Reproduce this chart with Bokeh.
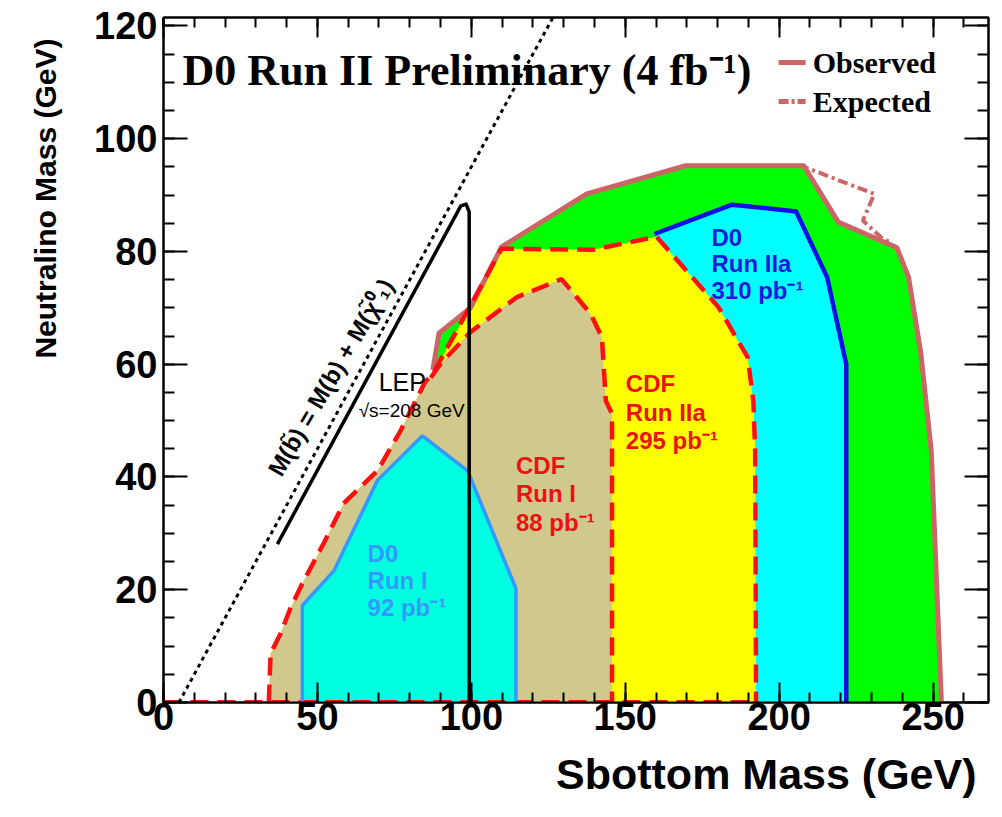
import math
from bokeh.plotting import figure
from bokeh.models import Range1d, LinearAxis, Label, CustomJSTickFormatter, SingleIntervalTicker, Title
from bokeh.embed import file_html
from bokeh.resources import INLINE

# ---------------- data (GeV) ----------------
# shared lower-left edge of the CDF contours
cdf_edge_x = [34.2, 34.8, 38.0, 41.3, 45.1, 52.0, 58.5, 69.5, 77.0, 85.2, 86.8]
cdf_edge_y = [0.0, 8.7, 12.2, 16.8, 21.1, 28.2, 35.3, 41.1, 48.2, 57.1, 57.6]
# CDF Run IIa (295 pb-1) upper/right edge
cdf2a_x = [98.8, 109.8, 139.4, 160.2, 180.3, 189.8, 191.6, 192.2, 192.5]
cdf2a_y = [69.5, 80.5, 80.3, 82.6, 70.1, 61.2, 53.5, 44.7, 0.0]
# CDF Run I (88 pb-1) upper/right edge
cdf1_x = [90.0, 99.7, 114.8, 129.3, 138.8, 142.4, 143.7, 145.7, 145.7]
cdf1_y = [60.1, 65.7, 71.9, 75.1, 68.9, 64.8, 53.5, 51.2, 0.0]
# D0 Run IIa (310 pb-1) edge
d02a_x = [159.5, 184.7, 205.5, 215.6, 221.8, 221.8]
d02a_y = [83.1, 88.3, 87.1, 75.4, 60.0, 0.0]
# D0 Run I (92 pb-1)
d01_x = [45.1, 45.1, 55.4, 69.5, 84.1, 98.8, 114.5, 114.5]
d01_y = [0.0, 17.2, 23.4, 39.4, 47.3, 41.1, 20.2, 0.0]
# D0 Run II (4 fb-1) observed and expected
obs_x = [87.5, 89.5, 99.7, 109.8, 137.5, 169.6, 208.0, 219.2, 238.2, 242.0, 246.0, 249.4, 252.7]
obs_y = [59.0, 65.5, 70.0, 80.8, 90.2, 95.2, 95.2, 85.2, 80.7, 75.5, 62.0, 44.7, 0.0]
exp_x = [207.2, 230.9, 227.2, 233.7, 236.4]
exp_y = [95.2, 90.2, 85.5, 82.2, 81.6]
# LEP limit
lep_x = [37.0, 96.6, 98.3, 99.3, 99.3]
lep_y = [28.1, 88.1, 88.4, 87.0, 0.0]
# kinematic line M(sb) = M(b) + M(chi)
kin_x = [5.0, 127.0]
kin_y = [0.0, 122.0]

X_MAX, Y_MAX = 268.0, 121.5

# ---------------- colours ----------------
C_OBS = "#cc6666"
C_GREEN = "#00ff00"
C_CYAN = "#00ffff"
C_BLUE = "#1010e6"
C_YELLOW = "#ffff00"
C_TAN = "#d0c88c"
C_D0I = "#00ffe0"
C_D0I_LINE = "#3399ff"
C_RED = "#ff1010"

p = figure(width=1002, height=817, output_backend="svg", toolbar_location=None,
           x_range=Range1d(0, X_MAX), y_range=Range1d(0, Y_MAX),
           min_border_left=163, min_border_right=14, min_border_top=17, min_border_bottom=115)
p.xgrid.visible = False
p.ygrid.visible = False
p.outline_line_color = "black"
p.outline_line_width = 2
p.background_fill_color = "white"
p.border_fill_color = "white"

# ---------------- fills ----------------
green_x = obs_x + [86.8]
green_y = obs_y + [0.0]
p.patch(green_x, green_y, fill_color=C_GREEN, line_color=None)

cyan_x = d02a_x + cdf2a_x[::-1][0:6]
cyan_y = d02a_y + cdf2a_y[::-1][0:6]
p.patch(cyan_x, cyan_y, fill_color=C_CYAN, line_color=None)

yel_x = [0.0] + cdf_edge_x + cdf2a_x
yel_y = [0.0] + cdf_edge_y + cdf2a_y
p.patch(yel_x, yel_y, fill_color=C_YELLOW, line_color=None)

tan_x = [0.0] + cdf_edge_x + cdf1_x
tan_y = [0.0] + cdf_edge_y + cdf1_y
p.patch(tan_x, tan_y, fill_color=C_TAN, line_color=None)

p.patch(d01_x, d01_y, fill_color=C_D0I, line_color=None)

# ---------------- outlines ----------------
p.line(obs_x, obs_y, line_color=C_OBS, line_width=5)
p.line([obs_x[6]] + exp_x, [obs_y[6]] + exp_y, line_color=C_OBS, line_width=4, line_dash="10 4 3 4")
p.line(d02a_x, d02a_y, line_color=C_BLUE, line_width=4.5)
p.line(cdf_edge_x + cdf2a_x, cdf_edge_y + cdf2a_y, line_color=C_RED, line_width=4.5, line_dash="18 9")
p.line([cdf_edge_x[-1]] + cdf1_x, [cdf_edge_y[-1]] + cdf1_y, line_color=C_RED, line_width=4.5, line_dash="18 9")
p.line([0.0, 192.5], [0.0, 0.0], line_color=C_RED, line_width=5, line_dash="18 9")
p.line(d01_x, d01_y, line_color=C_D0I_LINE, line_width=3.5)
p.line(lep_x, lep_y, line_color="black", line_width=3.5, line_join="round")
p.line(kin_x, kin_y, line_color="black", line_width=3, line_dash="4 4")

# ---------------- axes ----------------
xa = p.below[0]
ya = p.left[0]
xa.ticker = SingleIntervalTicker(interval=50, num_minor_ticks=5)
ya.ticker = SingleIntervalTicker(interval=20, num_minor_ticks=4)

def style_axis(ax, major_len, minor_len):
    ax.axis_line_color = "black"
    ax.axis_line_width = 2
    ax.major_tick_in = major_len
    ax.major_tick_out = 0
    ax.minor_tick_in = minor_len
    ax.minor_tick_out = 0
    ax.major_tick_line_width = 2
    ax.minor_tick_line_width = 2
    ax.major_label_text_font = "Liberation Sans"
    ax.major_label_text_font_style = "bold"
    ax.major_label_text_font_size = "38px"
    ax.major_label_text_color = "black"

style_axis(xa, 20, 10)
style_axis(ya, 24, 11)
xa.major_label_standoff = 0
ya.major_label_standoff = 6

top = LinearAxis(ticker=SingleIntervalTicker(interval=50, num_minor_ticks=5),
                 formatter=CustomJSTickFormatter(code="return ''"))
right = LinearAxis(ticker=SingleIntervalTicker(interval=20, num_minor_ticks=4),
                   formatter=CustomJSTickFormatter(code="return ''"))
style_axis(top, 20, 10)
style_axis(right, 24, 11)
for ax in (top, right):
    ax.major_label_standoff = 0
    ax.major_label_text_font_size = "1px"
p.add_layout(top, "above")
p.add_layout(right, "right")

# axis titles (ROOT style, aligned to the axis end)
X_TITLE = "Sbottom Mass (GeV)"
Y_TITLE = "Neutralino Mass (GeV)"
p.add_layout(Title(text=X_TITLE, align="right", offset=12, standoff=30, vertical_align="bottom",
                   text_font="Liberation Sans", text_font_style="bold",
                   text_font_size="43px", text_color="black"), "below")
p.add_layout(Title(text=Y_TITLE, align="right", offset=21, standoff=55, vertical_align="top",
                   text_font="Liberation Sans", text_font_style="bold",
                   text_font_size="30px", text_color="black"), "left")

# ---------------- texts ----------------
p.add_layout(Label(x=6.2, y=112.1, text="D0 Run II Preliminary (4 fb\u207b\u00b9)", text_align="left",
                   text_baseline="alphabetic", text_font="Liberation Serif", text_font_style="bold",
                   text_font_size="44px", text_color="black"))

# legend
p.line([199.8, 208.6], [113.5, 113.5], line_color=C_OBS, line_width=5)
p.line([199.8, 208.6], [106.6, 106.6], line_color=C_OBS, line_width=5, line_dash="10 3 3 3")
for ty, tt in ((113.5, "Observed"), (106.6, "Expected")):
    p.add_layout(Label(x=210.9, y=ty, text=tt, text_align="left", text_baseline="middle",
                       text_font="Liberation Serif", text_font_style="bold", text_font_size="30px",
                       text_color="black"))

def block(x, ys, lines, color):
    for yy, tt in zip(ys, lines):
        p.add_layout(Label(x=x, y=yy, text=tt, text_align="left", text_baseline="middle",
                           text_font="Liberation Sans", text_font_style="bold",
                           text_font_size="24px", text_color=color))

block(66.3, [26.4, 21.6, 16.8], ["D0", "Run I", "92 pb\u207b\u00b9"], C_D0I_LINE)
block(114.5, [42.0, 37.1, 31.9], ["CDF", "Run I", "88 pb\u207b\u00b9"], "#ee1111")
block(150.2, [56.6, 51.4, 46.5], ["CDF", "Run IIa", "295 pb\u207b\u00b9"], "#ee1111")
block(178.0, [82.5, 77.8, 73.0], ["D0", "Run IIa", "310 pb\u207b\u00b9"], "#1a1adc")

p.add_layout(Label(x=69.9, y=56.8, text="LEP", text_align="left", text_baseline="middle",
                   text_font="Liberation Sans", text_font_size="25px", text_color="black"))
p.add_layout(Label(x=63.4, y=51.8, text="\u221as=208 GeV", text_align="left", text_baseline="middle",
                   text_font="Liberation Sans", text_font_size="19px", text_color="black"))
p.add_layout(Label(x=54.3, y=57.7, text="M(b\u0303) = M(b) + M(\u03c7\u0303\u2070\u2081)",
                   angle=math.radians(59.6), text_align="center", text_baseline="middle",
                   text_font="Liberation Sans", text_font_style="bold", text_font_size="24px",
                   text_color="black"))

open("out.html", "w").write(file_html(p, INLINE))
